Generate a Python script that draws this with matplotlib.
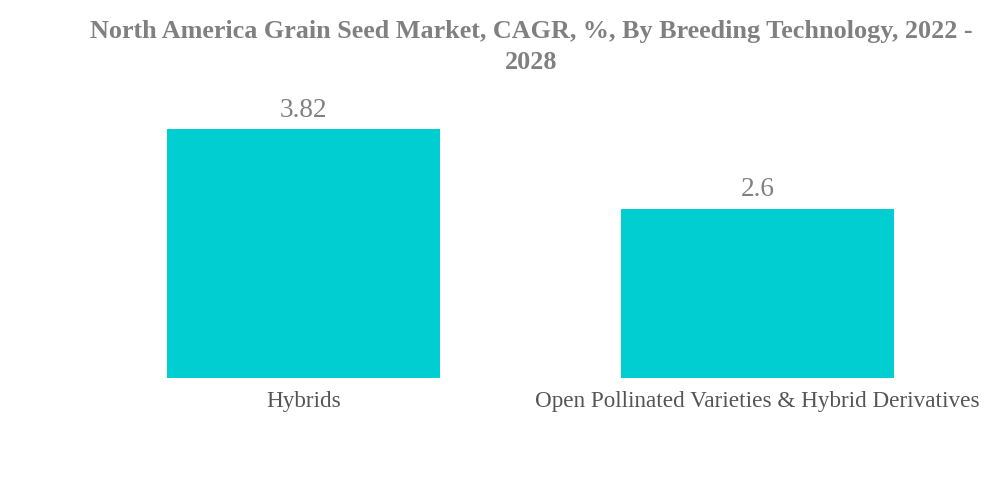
import numpy as np
import matplotlib.pyplot as plt

categories = ['Hybrids', 'Open Pollinated Varieties & Hybrid Derivatives']
cagr = [3.82, 2.6]

plt.rcParams['font.family'] = ['Liberation Serif', 'DejaVu Serif']

fig = plt.figure(figsize=(10, 4.83), dpi=100)
ax = fig.add_axes([0.076, 0.217, 0.909, 0.583])

x = np.arange(len(categories))
bars = ax.bar(x, cagr, width=0.6, color='#00CED1')
for xi, v in zip(x, cagr):
    ax.text(xi, v + 0.1, f'{v:g}', ha='center', va='bottom', fontsize=19.6, color='#808080')

ax.set_xlim(-0.5, 1.5)
ax.set_ylim(0, 4.32)
ax.set_xticks(x)
ax.set_xticklabels(categories, fontsize=16.7, color='#555555')
ax.tick_params(axis='x', length=0, pad=9)
ax.set_yticks([])
for s in ax.spines.values():
    s.set_visible(False)

fig.suptitle('North America Grain Seed Market, CAGR, %, By Breeding Technology, 2022 -\n2028',
             x=0.531, y=0.958, fontsize=18.8, fontweight='bold', color='#808080', linespacing=1.42)

fig.savefig('out.png', dpi=100)
